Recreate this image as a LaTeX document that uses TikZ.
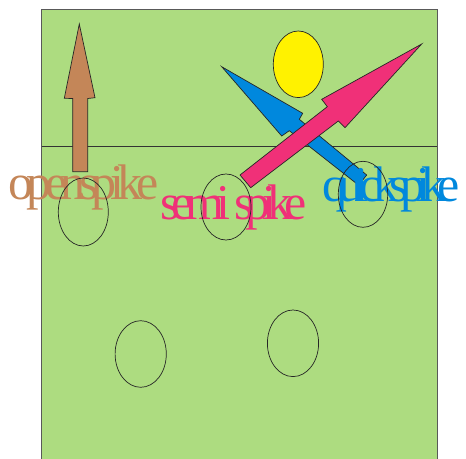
\documentclass[tikz,border=0pt]{standalone}
\usepackage{fontspec}
\newfontfamily\openfont[LetterSpace=-13.2]{Liberation Serif}
\newfontfamily\semifont[LetterSpace=-16.5]{Liberation Serif}
\newfontfamily\quickfont[LetterSpace=-17.5]{Liberation Serif}
\definecolor{court}{RGB}{173,220,128}
\definecolor{brownarrow}{RGB}{196,134,88}
\definecolor{pinkarrow}{RGB}{240,48,120}
\definecolor{bluearrow}{RGB}{0,136,221}
\begin{document}
\begin{tikzpicture}[x=1bp,y=-1bp,
  line/.style={draw=black!80,line width=0.8bp},
  player/.style={draw=black!85,line width=0.7bp},
  arrowshape/.style={draw=black!85,line width=0.7bp,line join=miter},
  spiketext/.style={inner sep=0pt,anchor=base west}]
\clip (0,0) rectangle (466,459);
% court
\path[fill=court,draw=black!65,line width=1bp] (41.5,10) rectangle (437,475);
\coordinate (netL) at (41.5,146);
\coordinate (netR) at (437,146);
\draw[line] (netL) -- (netR);
% setter (yellow)
\path[fill=yellow,draw=black!85,line width=0.7bp] (298.3,64.3) ellipse [x radius=25, y radius=33.3];
% brown arrow (open spike)
\path[arrowshape,fill=brownarrow] (79.3,24) -- (95,97.7) -- (87.7,98.5) -- (87.7,171.7) -- (72.7,171.7) -- (72.7,98.5) -- (64.3,98.3) -- cycle;
% blue arrow (quick spike)
\path[arrowshape,fill=bluearrow] (221.7,66.7) -- (302.7,113.3) -- (299.3,119.3) -- (366.7,175) -- (358.6,185.2) -- (289.3,130.7) -- (281.7,136) -- cycle;
% pink arrow (semi spike)
\path[arrowshape,fill=pinkarrow] (421.7,44) -- (345,127.7) -- (338.3,121) -- (250.7,187.7) -- (240,175) -- (327.3,106.7) -- (321.7,99.3) -- cycle;
% labels
\node[spiketext,text=brownarrow,font=\openfont\fontsize{50bp}{50bp}\selectfont] (open) at (8,200) {openspike};
\node[spiketext,text=pinkarrow,font=\semifont\fontsize{50bp}{50bp}\selectfont] (semi) at (160,220) {semi spike};
\node[spiketext,text=bluearrow,font=\quickfont\fontsize{50bp}{50bp}\selectfont] (quick) at (322,202) {quickspike};
% players
\draw[player] (83.3,212) ellipse [x radius=25, y radius=34];
\draw[player] (226,207) ellipse [x radius=25, y radius=33];
\draw[player] (363,194.3) ellipse [x radius=24.7, y radius=33];
\draw[player] (140.7,354) ellipse [x radius=25.6, y radius=33.3];
\draw[player] (293,343.3) ellipse [x radius=25.6, y radius=33.3];
\end{tikzpicture}
\end{document}
